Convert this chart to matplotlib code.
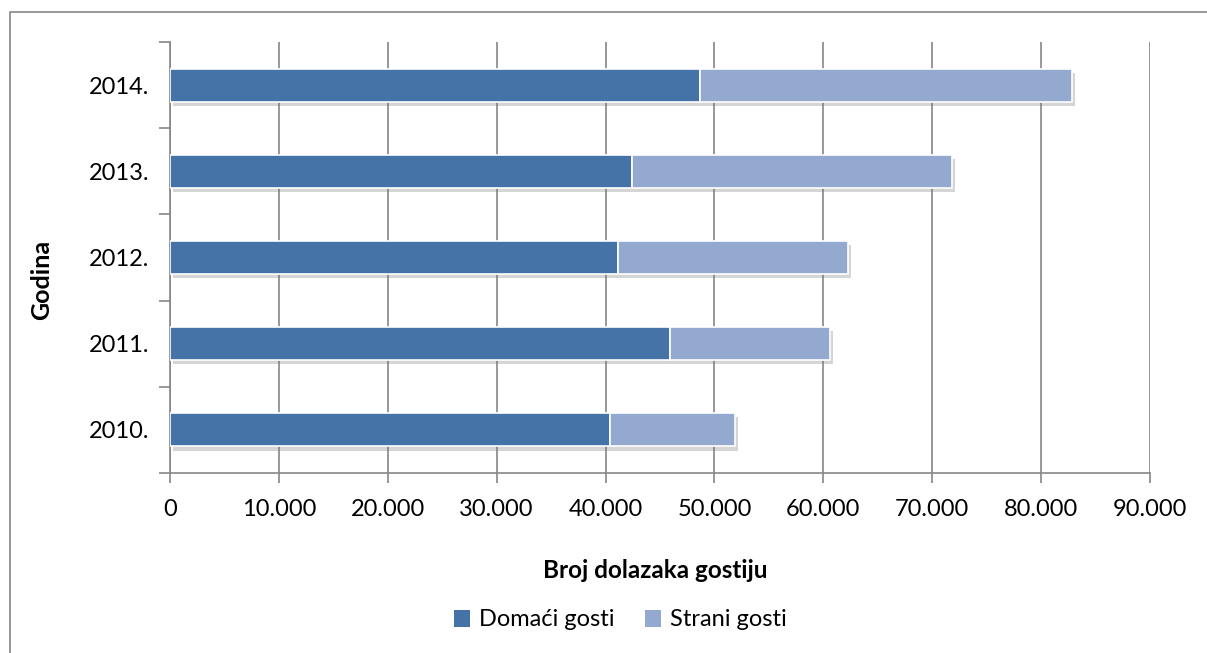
import matplotlib
matplotlib.use("Agg")
from matplotlib import pyplot as plt
from matplotlib import ticker as mticker
from matplotlib import patheffects as pe
from matplotlib.lines import Line2D
from matplotlib.patches import Patch
import numpy as np

# Data
years = ["2010.", "2011.", "2012.", "2013.", "2014."]
domaci = [40380, 45920, 41150, 42410, 48670]
strani = [11540, 14670, 21110, 29420, 34160]
x_ticks = [0, 10000, 20000, 30000, 40000, 50000, 60000, 70000, 80000, 90000]

DARK = "#4573a7"
LIGHT = "#94a9cf"
GRAY = "#868686"

plt.rcParams["font.family"] = ["Lato", "DejaVu Sans"]

fig = plt.figure(figsize=(12.07, 6.53), dpi=100)
ax = fig.add_axes([170 / 1207, 1 - 473 / 653, (1150 - 170) / 1207, (473 - 42) / 653])

y = np.arange(len(years))
shadow = [pe.SimplePatchShadow(offset=(2, -3), alpha=0.3, shadow_rgbFace="#777777"), pe.Normal()]
b1 = ax.barh(y, domaci, height=0.385, color=DARK, edgecolor="white", linewidth=1.2, zorder=3)
b2 = ax.barh(y, strani, left=domaci, height=0.385, color=LIGHT, edgecolor="white",
             linewidth=1.2, zorder=3)
for bars in (b1, b2):
    for p in bars:
        p.set_path_effects(shadow)

ax.set_xlim(0, 90000)
ax.set_ylim(-0.5, len(years) - 0.5)
ax.set_xticks(x_ticks)
ax.xaxis.set_major_formatter(mticker.FuncFormatter(
    lambda v, _: "0" if v == 0 else "{:,.0f}".format(v).replace(",", ".")))
ax.set_yticks(y)
ax.set_yticklabels(years)
ax.set_yticks(np.arange(len(years) + 1) - 0.5, minor=True)
ax.tick_params(axis="y", which="major", length=0, pad=15, labelsize=17)
ax.tick_params(axis="y", which="minor", length=8, color=GRAY, width=1.2)
ax.tick_params(axis="x", length=7, color=GRAY, width=1.2, labelsize=17, pad=12)

ax.grid(axis="x", color=GRAY, linewidth=1.2, zorder=0)
ax.set_axisbelow(True)
for side in ("top", "right"):
    ax.spines[side].set_visible(False)
for side in ("left", "bottom"):
    ax.spines[side].set_color(GRAY)
    ax.spines[side].set_linewidth(1.2)

fig.text(42 / 1207, 1 - 280 / 653, "Godina", rotation=90, ha="center", va="center",
         fontsize=18, fontweight="bold")
fig.text(655 / 1207, 1 - 571 / 653, "Broj dolazaka gostiju", ha="center", va="center",
         fontsize=17.5, fontweight="bold")

handles = [Patch(facecolor=DARK, label="Domaći gosti"),
           Patch(facecolor=LIGHT, label="Strani gosti")]
fig.legend(handles=handles, loc="center", bbox_to_anchor=(620 / 1207, 1 - 620 / 653),
           ncol=2, frameon=False, fontsize=17, handlelength=0.7, handleheight=0.7,
           handletextpad=0.35, columnspacing=1.3)

# outer chart border (only left and top visible in reference)
bx = 10 / 1207
by = 1 - 12 / 653
fig.add_artist(Line2D([bx, bx, 1.0], [0.0, by, by], color=GRAY, linewidth=1.2,
                      transform=fig.transFigure))

fig.savefig("out.png", dpi=100)
